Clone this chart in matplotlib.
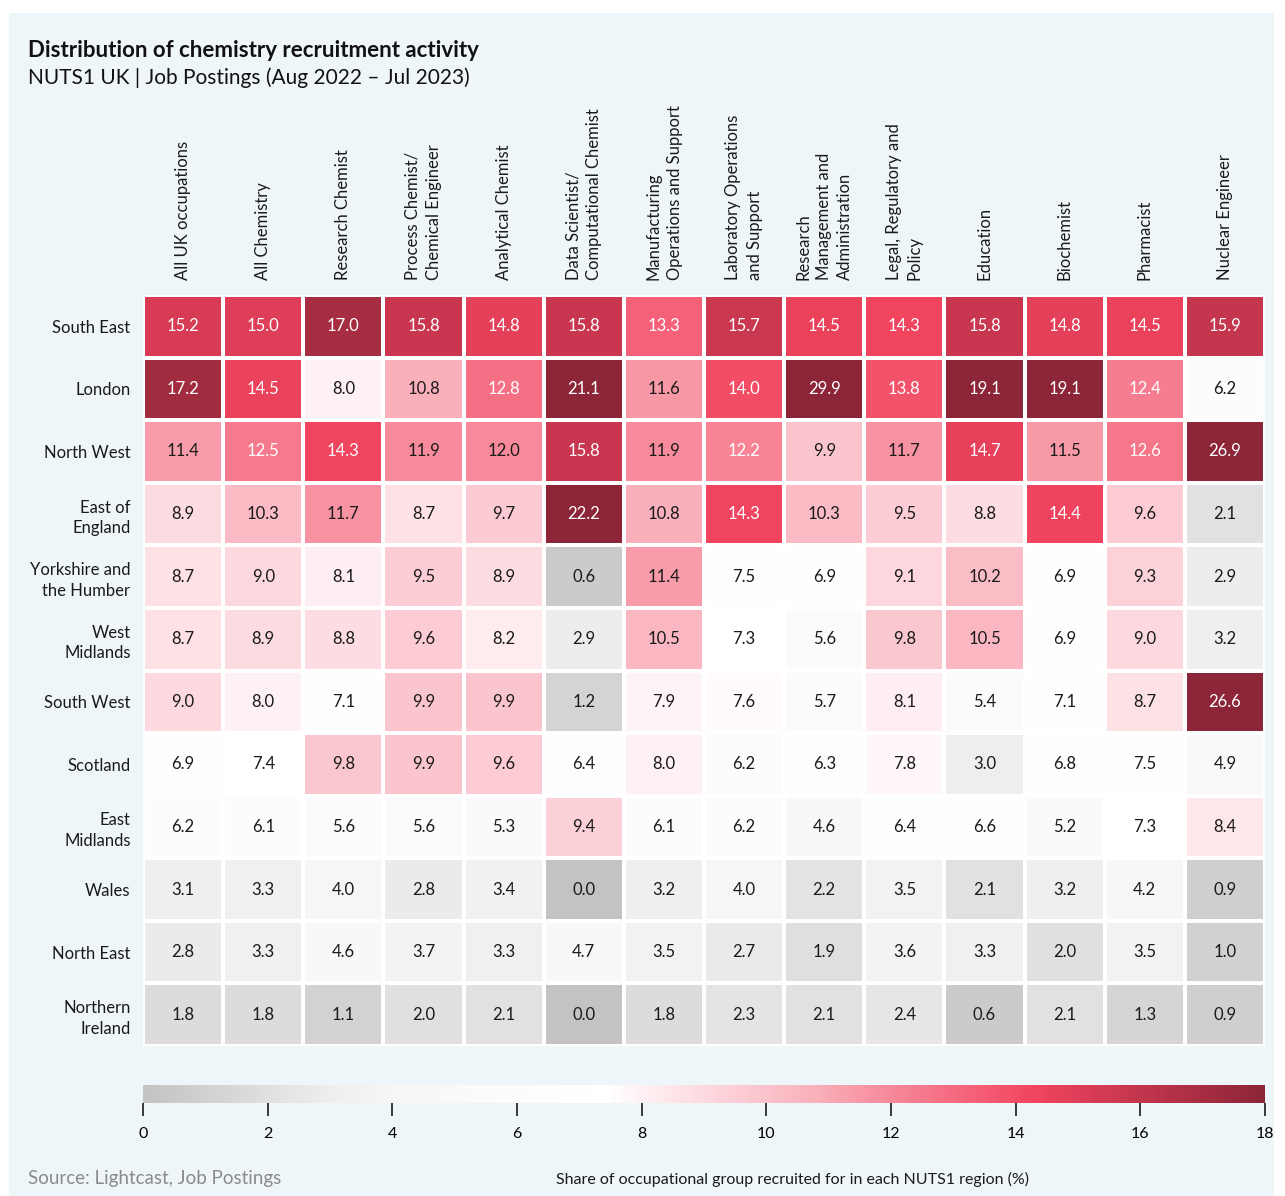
import numpy as np
import matplotlib as mpl
mpl.use('Agg')
import matplotlib.pyplot as plt
from matplotlib.colors import LinearSegmentedColormap, Normalize
from matplotlib.patches import Rectangle

plt.rcParams['font.family'] = ['Lato', 'DejaVu Sans']

occupations = [
    "All UK occupations", "All Chemistry", "Research Chemist",
    "Process Chemist/\nChemical Engineer", "Analytical Chemist",
    "Data Scientist/\nComputational Chemist",
    "Manufacturing\nOperations and Support",
    "Laboratory Operations\nand Support",
    "Research\nManagement and\nAdministration",
    "Legal, Regulatory and\nPolicy", "Education", "Biochemist",
    "Pharmacist", "Nuclear Engineer",
]
regions = [
    "South East", "London", "North West", "East of\nEngland",
    "Yorkshire and\nthe Humber", "West\nMidlands", "South West", "Scotland",
    "East\nMidlands", "Wales", "North East", "Northern\nIreland",
]
south_east = [15.2, 15.0, 17.0, 15.8, 14.8, 15.8, 13.3, 15.7, 14.5, 14.3, 15.8, 14.8, 14.5, 15.9]
london = [17.2, 14.5, 8.0, 10.8, 12.8, 21.1, 11.6, 14.0, 29.9, 13.8, 19.1, 19.1, 12.4, 6.2]
north_west = [11.4, 12.5, 14.3, 11.9, 12.0, 15.8, 11.9, 12.2, 9.9, 11.7, 14.7, 11.5, 12.6, 26.9]
east_of_england = [8.9, 10.3, 11.7, 8.7, 9.7, 22.2, 10.8, 14.3, 10.3, 9.5, 8.8, 14.4, 9.6, 2.1]
yorkshire = [8.7, 9.0, 8.1, 9.5, 8.9, 0.6, 11.4, 7.5, 6.9, 9.1, 10.2, 6.9, 9.3, 2.9]
west_midlands = [8.7, 8.9, 8.8, 9.6, 8.2, 2.9, 10.5, 7.3, 5.6, 9.8, 10.5, 6.9, 9.0, 3.2]
south_west = [9.0, 8.0, 7.1, 9.9, 9.9, 1.2, 7.9, 7.6, 5.7, 8.1, 5.4, 7.1, 8.7, 26.6]
scotland = [6.9, 7.4, 9.8, 9.9, 9.6, 6.4, 8.0, 6.2, 6.3, 7.8, 3.0, 6.8, 7.5, 4.9]
east_midlands = [6.2, 6.1, 5.6, 5.6, 5.3, 9.4, 6.1, 6.2, 4.6, 6.4, 6.6, 5.2, 7.3, 8.4]
wales = [3.1, 3.3, 4.0, 2.8, 3.4, 0.0, 3.2, 4.0, 2.2, 3.5, 2.1, 3.2, 4.2, 0.9]
north_east = [2.8, 3.3, 4.6, 3.7, 3.3, 4.7, 3.5, 2.7, 1.9, 3.6, 3.3, 2.0, 3.5, 1.0]
northern_ireland = [1.8, 1.8, 1.1, 2.0, 2.1, 0.0, 1.8, 2.3, 2.1, 2.4, 0.6, 2.1, 1.3, 0.9]

values = np.array([south_east, london, north_west, east_of_england, yorkshire,
                   west_midlands, south_west, scotland, east_midlands, wales,
                   north_east, northern_ireland])

bg = '#eff6fa'
vmax = 18
stops = [(0, '#c3c3c3'), (1, '#d1d1d1'), (2, '#e0e0e0'), (3, '#eeeeee'),
         (4, '#f6f6f6'), (5.5, '#fbfbfb'), (7.4, '#ffffff'), (9.0, '#fdd9df'),
         (10.8, '#f9b0bb'), (12.0, '#f7899a'), (14.3, '#f2445f'), (18, '#8c2538')]
cmap = LinearSegmentedColormap.from_list('chem', [(v / vmax, c) for v, c in stops])
norm = Normalize(0, vmax)

W, H = 1285, 1196
fig = plt.figure(figsize=(W / 100, H / 100), dpi=100)
fig.patch.set_facecolor('white')
fig.patches.append(Rectangle((9 / W, 0), (1274 - 9) / W, 1 - 13 / H,
                             transform=fig.transFigure, facecolor=bg,
                             edgecolor='none', zorder=-10))

ax = fig.add_axes([143 / W, 1 - 1046 / H, (1265 - 143) / W, (1046 - 295) / H])
nr, nc = values.shape
ax.pcolormesh(np.arange(nc + 1), np.arange(nr + 1), values, cmap=cmap, norm=norm,
              edgecolors='white', linewidth=1.6)
ax.set_xlim(0, nc)
ax.set_ylim(nr, 0)
for s in ax.spines.values():
    s.set_visible(False)
ax.set_facecolor(bg)

for i in range(nr):
    for j in range(nc):
        v = values[i, j]
        ax.text(j + 0.5, i + 0.5, f"{v:.1f}", ha='center', va='center',
                fontsize=12, color='white' if v > 12.05 else '#1a1a1a')

ax.set_xticks([])
ax.set_yticks(np.arange(nr) + 0.5)
ax.set_yticklabels(regions, fontsize=12, linespacing=1.35, color='#1a1a1a')
ax.tick_params(axis='y', length=0, pad=9)

# column headers, rotated, sitting 15px above the grid
lift = mpl.transforms.ScaledTranslation(0, 15 / 100, fig.dpi_scale_trans)
for j, name in enumerate(occupations):
    ax.text(j + 0.5, 1.0, name, transform=ax.get_xaxis_transform() + lift,
            rotation=90, ha='center', va='bottom', multialignment='left',
            fontsize=12, linespacing=1.4, color='#1a1a1a')

cax = fig.add_axes([143 / W, 1 - 1103 / H, (1265 - 143) / W, 18 / H])
cb = fig.colorbar(mpl.cm.ScalarMappable(norm=norm, cmap=cmap), cax=cax,
                  orientation='horizontal', ticks=np.arange(0, 19, 2))
cb.outline.set_visible(False)
cax.tick_params(length=9, width=1.2, labelsize=11.5, pad=8, color='#1a1a1a')

fig.text(28 / W, 1 - 57 / H, "Distribution of chemistry recruitment activity",
         fontsize=16, fontweight='bold', color='#111111', va='baseline')
fig.text(28 / W, 1 - 84 / H, "NUTS1 UK | Job Postings (Aug 2022 \u2013 Jul 2023)",
         fontsize=15, color='#111111', va='baseline')
fig.text(28 / W, 1 - 1184 / H, "Source: Lightcast, Job Postings",
         fontsize=13.5, color='#8a8a8a', va='baseline')
fig.text(793 / W, 1 - 1184 / H,
         "Share of occupational group recruited for in each NUTS1 region (%)",
         fontsize=11.5, color='#1a1a1a', va='baseline', ha='center')

fig.savefig('out.png', dpi=100, facecolor=fig.get_facecolor())
